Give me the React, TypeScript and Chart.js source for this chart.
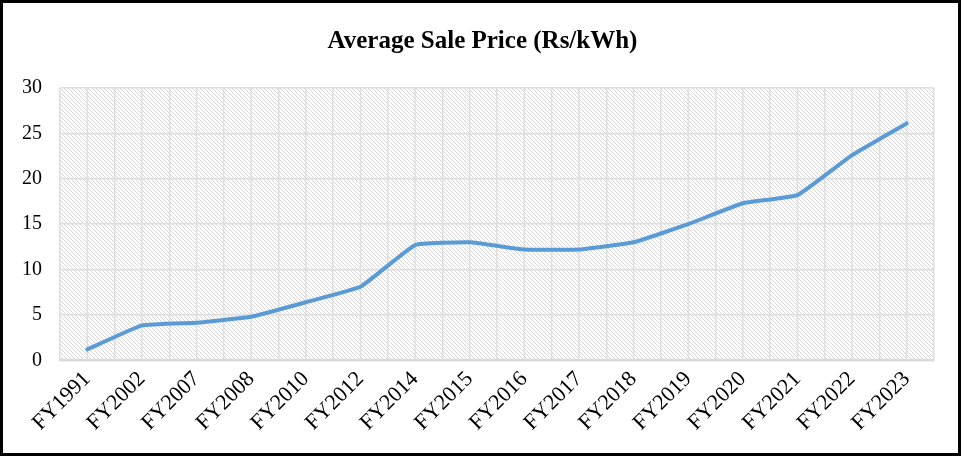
import React, { useEffect, useRef } from "react";
import { Chart, registerables } from "chart.js";

Chart.register(...registerables);

const categories = [
  "FY1991", "FY2002", "FY2007", "FY2008", "FY2010", "FY2012", "FY2014", "FY2015",
  "FY2016", "FY2017", "FY2018", "FY2019", "FY2020", "FY2021", "FY2022", "FY2023",
];
const avgSalePrice = [1.2, 3.85, 4.15, 4.8, 6.4, 8.1, 12.7, 13.0, 12.2, 12.2, 13.0, 15.0, 17.3, 18.2, 22.6, 26.1];
const yTicks = [0, 5, 10, 15, 20, 25, 30];

const FONT = "'Liberation Serif', 'Times New Roman', serif";

function makePattern(): CanvasPattern | string {
  const c = document.createElement("canvas");
  c.width = 4;
  c.height = 4;
  const g = c.getContext("2d");
  if (!g) return "#f2f2f2";
  g.fillStyle = "#ffffff";
  g.fillRect(0, 0, 4, 4);
  g.strokeStyle = "#d6d6d6";
  g.lineWidth = 1;
  g.beginPath();
  g.moveTo(-1, -1);
  g.lineTo(5, 5);
  g.moveTo(-1, 3);
  g.lineTo(1, 5);
  g.moveTo(3, -1);
  g.lineTo(5, 1);
  g.stroke();
  const ctx = document.createElement("canvas").getContext("2d");
  return ctx!.createPattern(c, "repeat") || "#f2f2f2";
}

const bgPlugin = {
  id: "hatchBg",
  afterLayout(chart: any) {
    const t = chart.titleBlock;
    if (t) {
      t.left = 4;
      t.right = 961;
      t.width = t.right - t.left;
    }
  },
  beforeDraw(chart: any) {
    const { ctx, chartArea } = chart;
    if (!chartArea) return;
    ctx.save();
    ctx.fillStyle = makePattern();
    ctx.fillRect(chartArea.left, chartArea.top, chartArea.right - chartArea.left, chartArea.bottom - chartArea.top);
    ctx.restore();
  },
  beforeDatasetsDraw(chart: any) {
    const { ctx, chartArea, scales } = chart;
    const x = scales.x;
    ctx.save();
    ctx.strokeStyle = "#dedede";
    ctx.lineWidth = 1.5;
    ctx.beginPath();
    for (let i = 0; i < categories.length; i++) {
      const px = x.getPixelForValue(i);
      ctx.moveTo(px, chartArea.top);
      ctx.lineTo(px, chartArea.bottom);
    }
    ctx.stroke();
    ctx.restore();
  },
};

export default function App() {
  const ref = useRef<HTMLCanvasElement>(null);
  useEffect(() => {
    document.body.style.margin = "0";
    if (!ref.current) return;
    const chart = new Chart(ref.current, {
      type: "line",
      data: {
        labels: categories,
        datasets: [
          {
            label: "Average Sale Price (Rs/kWh)",
            data: avgSalePrice,
            borderColor: "#5B9BD5",
            backgroundColor: "#5B9BD5",
            borderWidth: 4,
            pointRadius: 0,
            tension: 0.1,
            borderCapStyle: "round",
            borderJoinStyle: "round",
          },
        ],
      },
      options: {
        animation: false,
        responsive: false,
        layout: { padding: { left: 10, right: 27, top: 0, bottom: 14 } },
        plugins: {
          legend: { display: false },
          tooltip: { enabled: false },
          title: {
            display: true,
            text: "Average Sale Price (Rs/kWh)",
            color: "#000",
            font: { family: FONT, size: 25, weight: "bold" },
            padding: { top: 27, bottom: 31 },
          },
        },
        scales: {
          x: {
            offset: true,
            grid: { offset: true, color: "#dedede", lineWidth: 1.5, drawTicks: false },
            border: { color: "#d9d9d9", width: 2 },
            ticks: {
              color: "#000",
              font: { family: FONT, size: 22 },
              minRotation: 45,
              maxRotation: 45,
              padding: 6,
              autoSkip: false,
            },
          },
          y: {
            min: 0,
            max: 30,
            afterBuildTicks: (s: any) => {
              s.ticks = yTicks.map((v) => ({ value: v }));
            },
            afterFit: (s: any) => {
              s.width = 50;
            },
            grid: { color: "#dedede", lineWidth: 1.5, drawTicks: false },
            border: { display: false },
            ticks: {
              color: "#000",
              font: { family: FONT, size: 20 },
              padding: 18,
            },
          },
        },
      },
      plugins: [bgPlugin],
    });
    return () => chart.destroy();
  }, []);
  return (
    <div style={{ position: "relative", width: 961, height: 456 }}>
      <canvas ref={ref} width={961} height={456} style={{ position: "absolute", left: 0, top: 0 }} />
      <div
        style={{
          position: "absolute",
          left: 0,
          top: 0,
          width: 961,
          height: 456,
          border: "3px solid #000",
          boxSizing: "border-box",
          pointerEvents: "none",
        }}
      />
    </div>
  );
}
